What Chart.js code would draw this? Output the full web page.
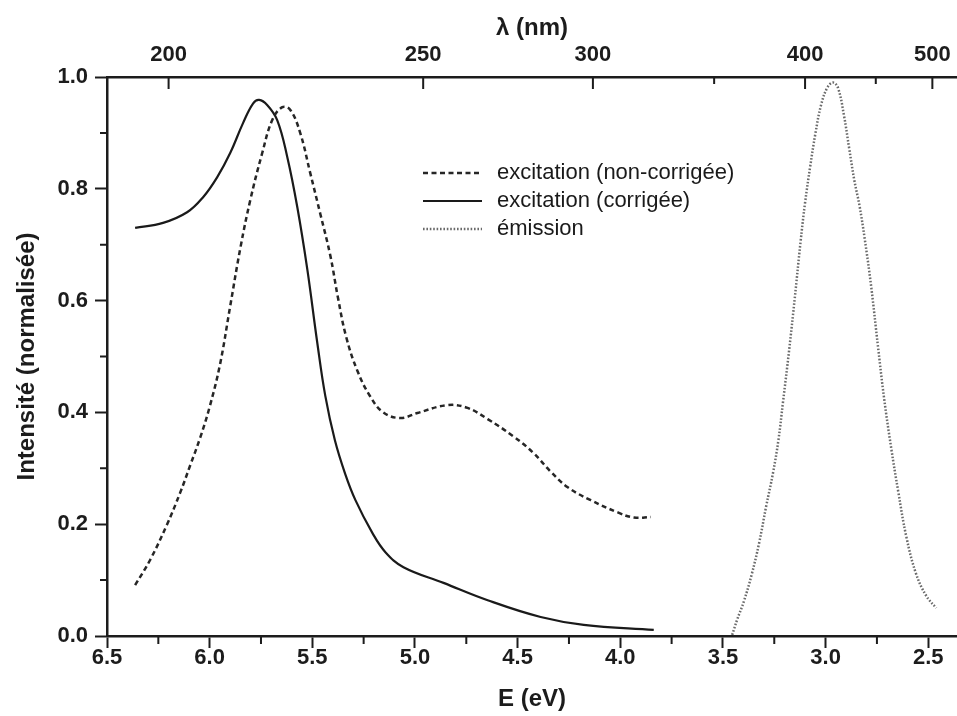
<!DOCTYPE html>
<html>
<head>
<meta charset="utf-8">
<script src="https://cdn.jsdelivr.net/npm/chart.js@4.4.0/dist/chart.umd.min.js"></script>
<style>
html,body{margin:0;padding:0;background:#ffffff;}
canvas{display:block;}
</style>
</head>
<body>
<canvas id="c" width="957" height="716"></canvas>
<script>
// ---- data ----
const eExcNC = [6.363, 6.290, 6.207, 6.144, 6.095, 6.046, 6.000, 5.950, 5.900, 5.850, 5.802, 5.744, 5.695, 5.646, 5.607, 5.559, 5.510, 5.461, 5.412, 5.375, 5.335, 5.280, 5.217, 5.154, 5.071, 4.988, 4.841, 4.744, 4.646, 4.520, 4.422, 4.339, 4.256, 4.144, 4.012, 3.934, 3.851];
const iExcNC = [0.091, 0.136, 0.200, 0.256, 0.305, 0.355, 0.410, 0.485, 0.590, 0.695, 0.780, 0.864, 0.923, 0.946, 0.941, 0.900, 0.828, 0.755, 0.680, 0.605, 0.535, 0.474, 0.428, 0.400, 0.390, 0.399, 0.413, 0.408, 0.388, 0.357, 0.327, 0.294, 0.266, 0.243, 0.221, 0.212, 0.213];

const eExcC = [6.363, 6.227, 6.110, 6.032, 5.963, 5.900, 5.837, 5.788, 5.759, 5.720, 5.671, 5.622, 5.573, 5.524, 5.476, 5.437, 5.390, 5.340, 5.290, 5.207, 5.144, 5.056, 4.861, 4.646, 4.388, 4.178, 3.837];
const iExcC = [0.730, 0.739, 0.758, 0.785, 0.821, 0.864, 0.918, 0.953, 0.959, 0.950, 0.923, 0.857, 0.767, 0.655, 0.525, 0.430, 0.350, 0.290, 0.243, 0.184, 0.150, 0.123, 0.095, 0.064, 0.034, 0.020, 0.011];

const eEmis = [3.455, 3.430, 3.398, 3.360, 3.324, 3.290, 3.256, 3.230, 3.207, 3.178, 3.150, 3.122, 3.100, 3.075, 3.050, 3.022, 2.990, 2.963, 2.939, 2.910, 2.885, 2.860, 2.835, 2.810, 2.778, 2.744, 2.715, 2.680, 2.646, 2.607, 2.560, 2.510, 2.461];
const iEmis = [0.002, 0.030, 0.062, 0.110, 0.166, 0.231, 0.292, 0.350, 0.420, 0.510, 0.605, 0.705, 0.775, 0.840, 0.898, 0.950, 0.982, 0.990, 0.980, 0.930, 0.872, 0.815, 0.770, 0.712, 0.625, 0.515, 0.425, 0.335, 0.258, 0.178, 0.112, 0.072, 0.050];

const seriesLabels = ['excitation (non-corrigée)', 'excitation (corrigée)', 'émission'];

const eTicks = [6.5, 6.0, 5.5, 5.0, 4.5, 4.0, 3.5, 3.0, 2.5];
const eMinorTicks = [6.25, 5.75, 5.25, 4.75, 4.25, 3.75, 3.25, 2.75];
const iTicks = [0.0, 0.2, 0.4, 0.6, 0.8, 1.0];
const iMinorTicks = [0.1, 0.3, 0.5, 0.7, 0.9];
const lambdaTicks = [200, 250, 300, 350, 400, 450, 500];
const lambdaLabels = ['200', '250', '300', '', '400', '', '500'];
const hc = 1240; // eV·nm, E = hc / λ

const eMin = 2.36, eMax = 6.5;

// ---- styles ----
const ink = '#1c1c1c';
const fontFam = "'Liberation Sans', Arial, Helvetica, sans-serif";

function pts(xs, ys) { return xs.map((x, i) => ({x: x, y: ys[i]})); }
function noPad(s) { s.paddingLeft = 0; s.paddingRight = 0; s.paddingTop = 0; s.paddingBottom = 0; }

const decor = {
  id: 'decor',
  afterDatasetsDraw(chart) {
    const ctx = chart.ctx, a = chart.chartArea;
    const sx = chart.scales.x, sy = chart.scales.y, sx2 = chart.scales.x2;
    ctx.save();
    ctx.strokeStyle = ink;
    ctx.lineWidth = 2;
    ctx.setLineDash([]);
    ctx.beginPath();
    eMinorTicks.forEach(v => {
      const px = sx.getPixelForValue(v);
      ctx.moveTo(px, a.bottom); ctx.lineTo(px, a.bottom + 8);
    });
    iMinorTicks.forEach(v => {
      const py = sy.getPixelForValue(v);
      ctx.moveTo(a.left - 7, py); ctx.lineTo(a.left, py);
    });
    sx2.ticks.forEach((t, i) => {
      const px = sx2.getPixelForValue(t.value);
      const len = lambdaLabels[i] ? 12 : 7;
      ctx.moveTo(px, a.top); ctx.lineTo(px, a.top + len);
    });
    ctx.stroke();

    // legend inside plot
    const lx0 = a.left + 316, lx1 = a.left + 375, tx = a.left + 390;
    const rowY = [a.top + 96, a.top + 124, a.top + 152];
    chart.data.datasets.forEach((ds, i) => {
      ctx.beginPath();
      ctx.strokeStyle = ds.borderColor;
      ctx.lineWidth = ds.borderWidth;
      ctx.setLineDash(ds.borderDash || []);
      ctx.moveTo(lx0, rowY[i]); ctx.lineTo(lx1, rowY[i]);
      ctx.stroke();
      ctx.setLineDash([]);
      ctx.fillStyle = '#1a1a1a';
      ctx.font = "22px " + fontFam;
      ctx.textBaseline = 'middle';
      ctx.textAlign = 'left';
      ctx.fillText(ds.label, tx, rowY[i]);
    });
    ctx.restore();
  }
};

const tickFont = {family: fontFam, size: 22, weight: 'bold', lineHeight: 1};
const titleFont = {family: fontFam, size: 24, weight: 'bold', lineHeight: 1.2};

new Chart(document.getElementById('c'), {
  type: 'line',
  data: {
    datasets: [
      {label: seriesLabels[0], data: pts(eExcNC, iExcNC), borderColor: '#262626', borderWidth: 2.5, borderDash: [5, 3.5]},
      {label: seriesLabels[1], data: pts(eExcC, iExcC), borderColor: '#1a1a1a', borderWidth: 2.2, borderDash: []},
      {label: seriesLabels[2], data: pts(eEmis, iEmis), borderColor: '#6a6a6a', borderWidth: 2.5, borderDash: [1.6, 1.8]}
    ]
  },
  options: {
    responsive: false,
    animation: false,
    layout: {padding: 0},
    elements: {point: {radius: 0}, line: {tension: 0.4, fill: false, borderCapStyle: 'butt'}},
    plugins: {legend: {display: false}, tooltip: {enabled: false}},
    scales: {
      x: {
        type: 'linear', position: 'bottom', reverse: true, min: eMin, max: eMax,
        afterBuildTicks: s => { s.ticks = eTicks.map(v => ({value: v})); },
        afterFit: s => { s.height = 80; noPad(s); },
        ticks: {autoSkip: false, maxRotation: 0, includeBounds: false, padding: -1, color: ink, font: tickFont,
                callback: v => Number(v).toFixed(1)},
        grid: {display: true, drawOnChartArea: false, drawTicks: true, tickLength: 12, tickWidth: 2, tickColor: ink},
        border: {display: true, color: ink, width: 2.5},
        title: {display: true, text: 'E (eV)', color: ink, font: titleFont, padding: {top: 2, bottom: 2}}
      },
      x2: {
        type: 'linear', position: 'top', reverse: true, min: eMin, max: eMax,
        afterBuildTicks: s => { s.ticks = lambdaTicks.map(l => ({value: hc / l})); },
        afterFit: s => { s.height = 77; noPad(s); },
        ticks: {autoSkip: false, maxRotation: 0, includeBounds: false, padding: 3, color: ink, font: tickFont,
                callback: (v, i) => lambdaLabels[i]},
        grid: {display: false},
        border: {display: true, color: ink, width: 2.5},
        title: {display: true, text: 'λ (nm)', color: ink, font: titleFont, padding: {top: 14, bottom: 0}}
      },
      y: {
        type: 'linear', position: 'left', min: 0, max: 1,
        afterBuildTicks: s => { s.ticks = iTicks.map(v => ({value: v})); },
        afterFit: s => { s.width = 107; noPad(s); },
        ticks: {autoSkip: false, padding: 7, color: ink, font: tickFont, callback: v => Number(v).toFixed(1)},
        grid: {display: true, drawOnChartArea: false, drawTicks: true, tickLength: 12, tickWidth: 2, tickColor: ink},
        border: {display: true, color: ink, width: 2.5},
        title: {display: true, text: 'Intensité (normalisée)', color: ink, font: titleFont, padding: {top: 13, bottom: 0}}
      }
    }
  },
  plugins: [decor]
});
</script>
</body>
</html>
